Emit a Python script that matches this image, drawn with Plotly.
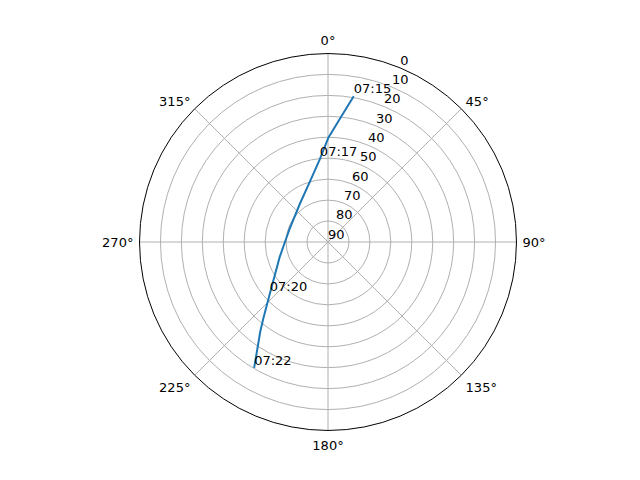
import plotly.graph_objects as go

# satellite pass
times = ["07:15:00", "07:15:39", "07:16:21", "07:17:00", "07:17:31", "07:18:01", "07:18:36",
         "07:18:49", "07:19:12", "07:20:00", "07:20:42", "07:21:02", "07:22:00"]
azimuth = [10.0, 6.1, 0.2, 354.4, 343.3, 323.4, 287.8, 273.0, 252.6, 228.3, 220.0, 217.1, 210.4]
elevation = [19.3, 29.6, 40.2, 50.2, 59.9, 67.4, 70.6, 69.8, 65.8, 52.8, 41.8, 36.4, 20.3]
labelled = ["07:15:00", "07:17:00", "07:20:00", "07:22:00"]

angle_ticks = [0, 45, 90, 135, 180, 225, 270, 315]
elev_ticks = [0, 10, 20, 30, 40, 50, 60, 70, 80, 90]
label_angle = 22.5  # where the elevation labels sit

# zenith in the middle, horizon on the rim
zen = [90 - e for e in elevation]

fig = go.Figure()
fig.add_trace(go.Scatterpolar(
    r=zen, theta=azimuth, mode="lines",
    line=dict(color="#1f77b4", width=2), hoverinfo="skip",
))
idx = [times.index(t) for t in labelled]
fig.add_trace(go.Scatterpolar(
    r=[zen[i] for i in idx], theta=[azimuth[i] for i in idx],
    mode="text", text=[t[:5] for t in labelled], textposition="top right",
    textfont=dict(size=13, color="black"), hoverinfo="skip",
))
# elevation labels, horizontal like matplotlib's
fig.add_trace(go.Scatterpolar(
    r=[90 - e for e in elev_ticks], theta=[label_angle] * len(elev_ticks),
    mode="text", text=[str(e) for e in elev_ticks], textposition="top right",
    textfont=dict(size=13, color="black"), hoverinfo="skip",
))

fig.update_layout(
    width=640, height=480,
    margin=dict(l=0, r=0, t=0, b=0),
    paper_bgcolor="white",
    showlegend=False,
    font=dict(family="DejaVu Sans", size=13, color="black"),
    polar=dict(
        domain=dict(x=[0.2055, 0.7945], y=[0.1198, 0.9052]),
        bgcolor="white",
        angularaxis=dict(
            rotation=90, direction="clockwise",
            tickvals=angle_ticks, ticktext=[f"{a}°" for a in angle_ticks],
            showline=True, linecolor="black", linewidth=1,
            gridcolor="#b0b0b0", gridwidth=1,
            ticks="outside", ticklen=3, tickcolor="rgba(0,0,0,0)",
        ),
        radialaxis=dict(
            range=[0, 90],
            tickvals=[90 - e for e in elev_ticks],
            showticklabels=False, showline=False, ticks="",
            gridcolor="#b0b0b0", gridwidth=1,
        ),
    ),
)

fig.write_html("out.html")
